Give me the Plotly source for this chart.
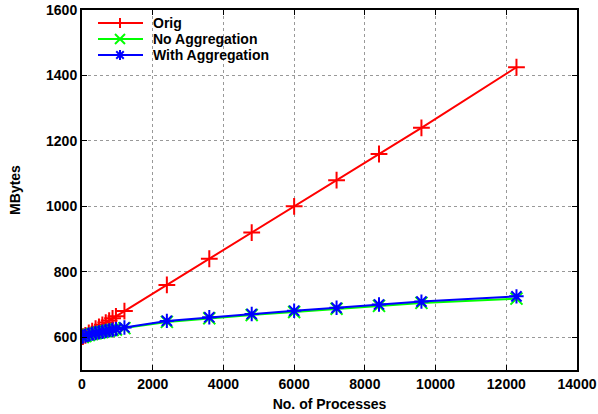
import plotly.graph_objects as go

procs = [24, 96, 192, 288, 384, 480, 576, 672, 768, 864, 960, 1200,
         2400, 3600, 4800, 6000, 7200, 8400, 9600, 12288]
orig = [602, 606, 613, 619, 626, 632, 638, 645, 651, 658, 664, 680,
        760, 840, 920, 1000, 1080, 1160, 1240, 1425]
no_agg = [601, 604, 607, 610, 612, 614, 616, 618, 620, 622, 624, 628,
          647, 658, 668, 677, 687, 696, 705, 718]
with_agg = [602, 605, 608, 611, 613, 615, 617, 619, 621, 623, 625, 630,
            650, 661, 671, 681, 690, 700, 709, 725]

series_names = ["Orig", "No Aggregation", "With Aggregation"]
series_colors = ["#ff0000", "#00ff00", "#0000ff"]
series_symbols = ["cross-thin-open", "x-thin-open", "asterisk-open"]
series_values = [orig, no_agg, with_agg]

font = dict(family="Liberation Sans, Arial, sans-serif", size=14, color="black", weight="bold")

fig = go.Figure()
for name, col, sym, vals in zip(series_names, series_colors, series_symbols, series_values):
    fig.add_trace(go.Scatter(x=procs, y=vals, name=name, mode="lines+markers",
                             line=dict(color=col, width=2),
                             marker=dict(symbol=sym, size=12, line=dict(color=col, width=2))))

axis_common = dict(showline=True, linecolor="black", linewidth=2, mirror="ticks",
                   ticks="inside", ticklen=5, tickcolor="black",
                   showgrid=True, gridcolor="#999999", gridwidth=1, griddash="dot",
                   zeroline=False, tickfont=font, automargin=False, tickformat="d")

fig.update_xaxes(range=[0, 14000], dtick=2000, tick0=0,
                 title=dict(text="No. of Processes", font=font, standoff=8), **axis_common)
fig.update_yaxes(range=[500, 1600], dtick=200, tick0=0,
                 title=dict(text="MBytes", font=font, standoff=22), **axis_common)

# manual legend (inside top-left of plot area)
W, H = 495.0, 360.0
rows_px = [23, 39, 55]
x0, x1, xm, xt = (98 - 82) / W, (143 - 82) / W, (120 - 82) / W, (151 - 82) / W
dx, dy = 5 / W, 5 / H
shapes = []
annotations = []
for name, col, sym, ypx in zip(series_names, series_colors, series_symbols, rows_px):
    y = 1 - (ypx - 10) / H
    ln = dict(color=col, width=2)
    shapes.append(dict(type="line", xref="paper", yref="paper", x0=x0, x1=x1, y0=y, y1=y, line=ln))
    if sym in ("cross-thin-open", "asterisk-open"):
        shapes.append(dict(type="line", xref="paper", yref="paper", x0=xm - dx, x1=xm + dx, y0=y, y1=y, line=ln))
        shapes.append(dict(type="line", xref="paper", yref="paper", x0=xm, x1=xm, y0=y - dy, y1=y + dy, line=ln))
    if sym in ("x-thin-open", "asterisk-open"):
        k = 0.75 if sym == "asterisk-open" else 1.0
        shapes.append(dict(type="line", xref="paper", yref="paper", x0=xm - dx * k, x1=xm + dx * k,
                           y0=y - dy * k, y1=y + dy * k, line=ln))
        shapes.append(dict(type="line", xref="paper", yref="paper", x0=xm - dx * k, x1=xm + dx * k,
                           y0=y + dy * k, y1=y - dy * k, line=ln))
    annotations.append(dict(text=name, xref="paper", yref="paper", x=xt, y=y, xanchor="left",
                            yanchor="middle", showarrow=False, font=font))

fig.update_layout(width=598, height=414, margin=dict(l=82, r=21, t=10, b=44),
                  plot_bgcolor="white", paper_bgcolor="white", font=font,
                  showlegend=False, shapes=shapes, annotations=annotations)

fig.write_html("out.html", config={"displayModeBar": False},
               post_script="document.body.style.margin='0';document.body.style.overflow='hidden';")
